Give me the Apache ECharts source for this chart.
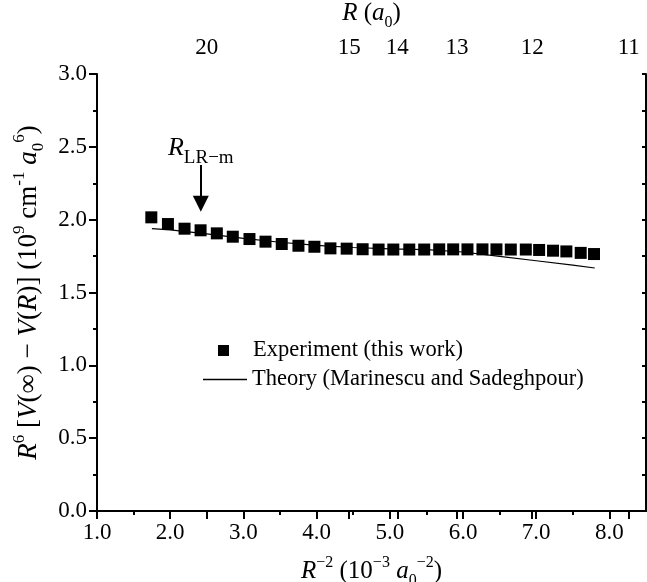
<!DOCTYPE html>
<html>
<head>
<meta charset="utf-8">
<script src="https://cdn.jsdelivr.net/npm/echarts@6/dist/echarts.min.js"></script>
<style>
  html, body { margin: 0; padding: 0; background: #fff; }
  #main { width: 647px; height: 582px; }
</style>
</head>
<body>
<div id="main"></div>
<script>
// experiment points, R^-2 (1e-3 a0^-2) vs R^6 dV (1e9 cm^-1 a0^6)
var expX = [1.742, 1.969, 2.196, 2.415, 2.637, 2.855, 3.083, 3.302, 3.524, 3.752,
            3.970, 4.189, 4.411, 4.629, 4.847, 5.048, 5.266, 5.470, 5.675, 5.866,
            6.061, 6.266, 6.457, 6.653, 6.858, 7.040, 7.230, 7.412, 7.608, 7.790];
var expY = [2.016, 1.970, 1.938, 1.927, 1.906, 1.883, 1.867, 1.849, 1.833, 1.821,
            1.814, 1.803, 1.801, 1.797, 1.795, 1.795, 1.795, 1.795, 1.796, 1.796,
            1.796, 1.796, 1.796, 1.795, 1.795, 1.792, 1.787, 1.782, 1.772, 1.764];

// theory curve
var theoryX = [1.75, 2.0, 2.5, 3.0, 3.5, 4.0, 4.5, 5.0, 5.5, 6.0, 6.5, 7.0, 7.5, 7.8];
var theoryY = [1.938, 1.930, 1.903, 1.872, 1.845, 1.824, 1.809, 1.800, 1.795, 1.778, 1.748, 1.718, 1.688, 1.668];

// tick labels
var bottomTicks = [1, 2, 3, 4, 5, 6, 7, 8];
var bottomMinor = [1.5, 2.5, 3.5, 4.5, 5.5, 6.5, 7.5];
var topR = [20, 15, 14, 13, 12, 11];
var topPos = topR.map(function (r) { return 1000 / (r * r); });

// arrow marking R_LR-m
var arrowX = 2.418;
var arrowY = [2.375, 2.11];

var FONT = 'Liberation Serif';

function richSet(size, small) {
    var lh = Math.round(size * 1.15);
    return {
        i: { fontFamily: FONT, fontSize: size, lineHeight: lh, fontStyle: 'italic', verticalAlign: 'bottom' },
        t: { fontFamily: FONT, fontSize: size, lineHeight: lh, verticalAlign: 'bottom' },
        sup: { fontFamily: FONT, fontSize: small, lineHeight: lh, verticalAlign: 'top' },
        sub: { fontFamily: FONT, fontSize: small, lineHeight: lh, verticalAlign: 'bottom', padding: [0, 0, -5, 0] }
    };
}
var TS = 23;   // tick label size

var chart = echarts.init(document.getElementById('main'));

var option = {
    animation: false,
    textStyle: { fontFamily: FONT, color: '#000' },
    grid: { left: 97, right: 1, top: 74, bottom: 71, outerBoundsMode: 'none', containLabel: false },
    legend: [{
        orient: 'vertical',
        left: 213,
        top: 334,
        itemWidth: 11,
        itemHeight: 11,
        data: [{ name: 'Experiment (this work)', icon: 'rect' }],
        textStyle: { fontFamily: FONT, fontSize: 22.5, color: '#000', padding: [0, 0, 0, 19] }
    }, {
        orient: 'vertical',
        left: 198,
        top: 363,
        itemWidth: 44,
        itemHeight: 1.5,
        data: [{ name: 'Theory (Marinescu and Sadeghpour)', icon: 'rect' }],
        textStyle: { fontFamily: FONT, fontSize: 22.5, color: '#000' }
    }],
    xAxis: [{
        type: 'value',
        position: 'bottom',
        min: 1, max: 8.5, interval: 0.5,
        name: '{i|R}{sup|−2}{t| (10}{sup|−3}{t| }{i|a}{sub|0}{sup|−2}{t|)}',
        nameLocation: 'middle',
        nameGap: 44,
        nameTextStyle: { rich: richSet(25, 16) },
        axisLine: { lineStyle: { color: '#000', width: 2 } },
        axisTick: { customValues: bottomTicks, length: 8, lineStyle: { color: '#000', width: 2 } },
        axisLabel: {
            customValues: bottomTicks,
            margin: 10,
            fontFamily: FONT, fontSize: TS, color: '#000',
            formatter: function (v) { return v.toFixed(1); }
        },
        splitLine: { show: false }
    }, {
        type: 'value',
        position: 'top',
        min: 1, max: 8.5,
        name: '{i|R}{t| (}{i|a}{sub|0}{t|)}',
        nameLocation: 'middle',
        nameGap: 42,
        nameTextStyle: { rich: richSet(25, 16) },
        axisLine: { lineStyle: { color: '#000', width: 2 } },
        axisTick: { customValues: topPos, inside: true, length: 8, lineStyle: { color: '#000', width: 2 } },
        axisLabel: {
            customValues: topPos,
            margin: 15,
            fontFamily: FONT, fontSize: TS, color: '#000',
            formatter: function (v) {
                for (var k = 0; k < topPos.length; k++) {
                    if (Math.abs(topPos[k] - v) < 1e-6) return String(topR[k]);
                }
                return '';
            }
        },
        splitLine: { show: false }
    }, {
        // short ticks between the labelled ones on the bottom
        type: 'value',
        position: 'bottom',
        min: 1, max: 8.5,
        axisLine: { show: false },
        axisTick: { customValues: bottomMinor, length: 4, lineStyle: { color: '#000', width: 2 } },
        axisLabel: { show: false },
        splitLine: { show: false }
    }],
    yAxis: [{
        type: 'value',
        position: 'left',
        min: 0, max: 3, interval: 0.5,
        name: '{i|R}{sup|6}{t| [}{i|V}{t|(∞) − }{i|V}{t|(}{i|R}{t|)] (10}{sup|9}{t| cm}{sup|-1}{t| }{i|a}{sub|0}{sup|6}{t|)}',
        nameLocation: 'middle',
        nameGap: 52,
        nameTextStyle: { rich: richSet(27, 17) },
        axisLine: { lineStyle: { color: '#000', width: 2 } },
        axisTick: { length: 8, lineStyle: { color: '#000', width: 2 } },
        minorTick: { show: true, splitNumber: 2, length: 4, lineStyle: { color: '#000', width: 2 } },
        axisLabel: {
            margin: 10,
            fontFamily: FONT, fontSize: TS, color: '#000',
            formatter: function (v) { return v.toFixed(1); }
        },
        splitLine: { show: false }
    }, {
        type: 'value',
        position: 'right',
        min: 0, max: 3, interval: 0.25,
        axisLine: { lineStyle: { color: '#000', width: 2 } },
        axisTick: { inside: true, length: 4, lineStyle: { color: '#000', width: 2 } },
        axisLabel: { show: false },
        splitLine: { show: false }
    }],
    series: [{
        name: 'Experiment (this work)',
        type: 'scatter',
        symbol: 'rect',
        symbolSize: 12,
        itemStyle: { color: '#000', opacity: 1 },
        z: 3,
        data: expX.map(function (x, i) { return [x, expY[i]]; }),
        markLine: {
            silent: true,
            animation: false,
            symbol: ['none', 'triangle'],
            symbolSize: 16,
            lineStyle: { color: '#000', width: 2, type: 'solid' },
            label: {
                show: true,
                position: 'start',
                distance: 4,
                formatter: '{r|R}{s|LR−m}',
                rich: {
                    r: { fontFamily: FONT, fontStyle: 'italic', fontSize: 26, color: '#000', verticalAlign: 'bottom', lineHeight: 28 },
                    s: { fontFamily: FONT, fontSize: 19, color: '#000', verticalAlign: 'bottom', lineHeight: 28, padding: [0, 0, -6, 0] }
                }
            },
            data: [[{ coord: [arrowX, arrowY[0]] }, { coord: [arrowX, arrowY[1]] }]]
        }
    }, {
        name: 'Theory (Marinescu and Sadeghpour)',
        type: 'line',
        showSymbol: false,
        symbol: 'none',
        lineStyle: { color: '#000', width: 1.2 },
        itemStyle: { color: '#000' },
        z: 2,
        data: theoryX.map(function (x, i) { return [x, theoryY[i]]; })
    }]
};

chart.setOption(option);
</script>
</body>
</html>
